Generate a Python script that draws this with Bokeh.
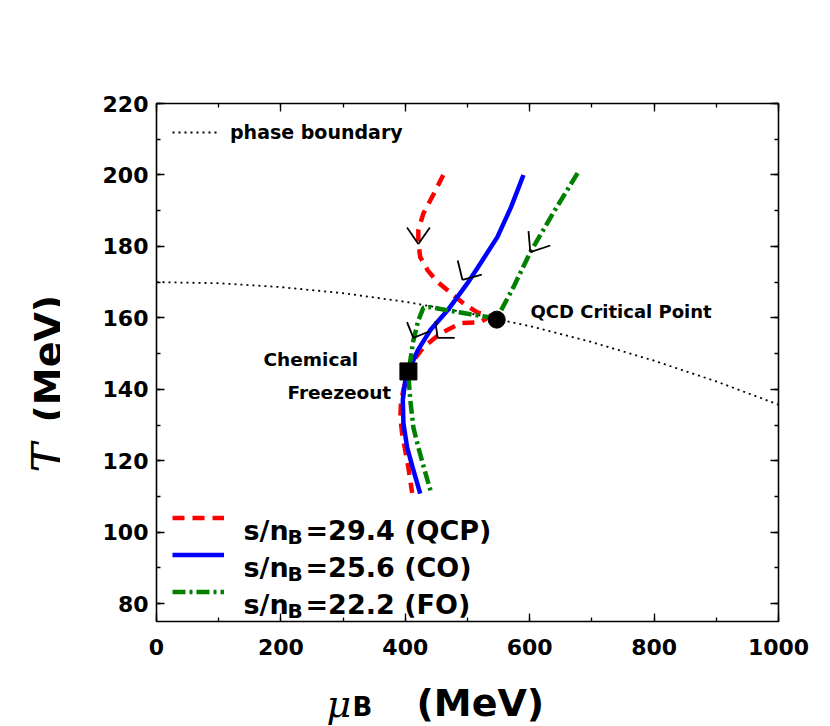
from bokeh.plotting import figure
from bokeh.layouts import column, row
from bokeh.models import (SingleIntervalTicker, LinearAxis, Label, Legend, LegendItem,
                          CustomJSTickFormatter)
from bokeh.embed import file_html
from bokeh.resources import INLINE
import math

# ---------------- data ----------------
mu_qcp = [461, 446, 429, 421, 421, 424, 436, 452, 468, 494, 516, 537, 521, 489, 456,
          429, 413, 405, 397, 393, 392, 395, 400, 405, 411]
T_qcp = [200, 194.8, 189.2, 184.6, 181, 177, 173.3, 170, 167.7, 164, 161.5, 160.5, 158.8,
         158.5, 155.6, 151.7, 148, 145, 140, 136, 132, 127.5, 122.8, 118, 111]

mu_co = [590, 570, 548, 521, 500, 468, 440, 420, 411, 405, 400, 396, 397, 403, 412, 424]
T_co = [200, 191, 182.6, 175.3, 169.7, 162.1, 156.5, 150.9, 147.3, 145, 142.5, 137,
        130.4, 123.7, 118, 110.8]

mu_fo = [677, 640, 601, 575, 547, 537, 505, 468, 440, 429, 421, 413, 408, 405, 408, 413,
         421, 430, 442]
T_fo = [200.5, 190, 178.4, 169, 159.8, 160.1, 161, 162.1, 163, 162.8, 159.3, 153.7, 148,
        144, 137, 129.3, 123.7, 118, 110.8]

mu_pb = [0, 100, 200, 300, 400, 500, 600, 700, 800, 900, 1000]
T_pb = [170, 169.7, 168.6, 166.9, 164.5, 161.4, 157.7, 153.2, 148.0, 142.2, 135.7]

freeze_mu = [405]
freeze_T = [145]
qcp_mu = [547]
qcp_T = [159.5]

# arrow heads on the trajectories: vertex and arm directions (deg)
arrow_mu = [421, 492, 601, 413, 452]
arrow_T = [180.7, 170.6, 178.4, 154.4, 154.4]
arrow_arm1 = [124.5, 104, 95, 112, 98]
arrow_arm2 = [54.8, 15.5, 18.4, 22, 0]
arrow_len = [20, 20, 21, 17, 17]

legend_labels = ["29.4 (QCP)", "25.6 (CO)", "22.2 (FO)"]

# ---------------- layout ----------------
TOTAL_W, TOTAL_H = 830, 726
YT_W = 60            # strip holding the y-axis title
XT_H = 46            # strip holding the x-axis title
W, H = TOTAL_W - YT_W, TOTAL_H - XT_H
FRAME_L, FRAME_R, FRAME_T, FRAME_B = 156, 778, 103, 621   # picture pixels
ML, MR, MT, MB = FRAME_L - YT_W, W - (FRAME_R - YT_W), FRAME_T, H - FRAME_B
X0, X1 = 0, 1000
Y0, Y1 = 75, 220
FW, FH = FRAME_R - FRAME_L, FRAME_B - FRAME_T


def sx(px):  # picture pixel -> data x of the main plot
    return X0 + (px - FRAME_L) / FW * (X1 - X0)


def sy(py):  # picture pixel -> data y of the main plot
    return Y1 - (py - FRAME_T) / FH * (Y1 - Y0)


p = figure(width=W, height=H, x_range=(X0, X1), y_range=(Y0, Y1), title=None,
           output_backend="svg", toolbar_location=None,
           min_border_left=ML, min_border_right=MR, min_border_top=MT, min_border_bottom=MB)
p.grid.visible = False
p.outline_line_color = "black"
p.outline_line_width = 1.6
p.background_fill_color = "white"
p.border_fill_color = "white"

TICK_FONT = "DejaVu Sans"


def style_axis(ax, show_labels=True, standoff=10):
    ax.axis_line_color = None
    ax.major_tick_in = 8
    ax.major_tick_out = 0
    ax.minor_tick_in = 4
    ax.minor_tick_out = 0
    ax.major_tick_line_color = "black"
    ax.minor_tick_line_color = "black"
    ax.major_tick_line_width = 1.3
    ax.minor_tick_line_width = 1.3
    ax.major_label_text_font = TICK_FONT
    ax.major_label_text_font_style = "bold"
    ax.major_label_text_font_size = "22px"
    ax.major_label_text_color = "black"
    ax.major_label_standoff = standoff
    if not show_labels:
        ax.formatter = CustomJSTickFormatter(code="return ''")


p.xaxis.ticker = SingleIntervalTicker(interval=200, num_minor_ticks=2)
p.yaxis.ticker = SingleIntervalTicker(interval=20, num_minor_ticks=2)
style_axis(p.xaxis[0], standoff=17)
style_axis(p.yaxis[0], standoff=8)

ax_top = LinearAxis(ticker=SingleIntervalTicker(interval=200, num_minor_ticks=2))
style_axis(ax_top, show_labels=False)
p.add_layout(ax_top, "above")
ax_right = LinearAxis(ticker=SingleIntervalTicker(interval=20, num_minor_ticks=2))
style_axis(ax_right, show_labels=False)
p.add_layout(ax_right, "right")

# ---------------- curves ----------------
pb = p.line(mu_pb, T_pb, line_color="black", line_width=1.8, line_dash="2 4")
r_qcp = p.line(mu_qcp, T_qcp, line_color="#ff0000", line_width=4.5, line_dash="12 8")
r_co = p.line(mu_co, T_co, line_color="#0000ff", line_width=4.5)
r_fo = p.line(mu_fo, T_fo, line_color="#008000", line_width=4.5, line_dash="13 4 3 4")

p.scatter(freeze_mu, freeze_T, marker="square", size=17, color="black")
p.scatter(qcp_mu, qcp_T, marker="circle", size=17, color="black")

p.ray(x=arrow_mu + arrow_mu, y=arrow_T + arrow_T, length=arrow_len + arrow_len,
      length_units="screen", angle=arrow_arm1 + arrow_arm2, angle_units="deg",
      line_color="black", line_width=1.8)

# ---------------- legends ----------------
leg_top = Legend(items=[LegendItem(label="phase boundary", renderers=[pb])],
                 location=(16, 477), border_line_color=None, background_fill_alpha=0,
                 padding=0, margin=0, glyph_width=46, glyph_height=24, label_height=24,
                 label_standoff=12, label_text_font="DejaVu Sans",
                 label_text_font_style="bold", label_text_font_size="19px",
                 label_text_color="black")
p.add_layout(leg_top)

leg_bot = Legend(items=[LegendItem(label=" ", renderers=[r_qcp]),
                        LegendItem(label=" ", renderers=[r_co]),
                        LegendItem(label=" ", renderers=[r_fo])],
                 location=(16, 11), border_line_color=None, background_fill_alpha=0,
                 padding=0, margin=0, spacing=0, glyph_width=52, glyph_height=37,
                 label_height=37, label_standoff=0, label_text_font_size="4px")
p.add_layout(leg_bot)


def lbl(fig, fx, fy, text, x, y, size, font="DejaVu Sans", style="bold", angle=0.0,
        baseline="alphabetic", align="left"):
    fig.add_layout(Label(x=fx(x), y=fy(y), text=text, text_font=font,
                         text_font_style=style, text_font_size=f"{size}px",
                         text_color="black", angle=angle, text_baseline=baseline,
                         text_align=align))


row_y = [517, 554, 591]
for ly, txt in zip(row_y, legend_labels):
    lbl(p, sx, sy, "s/n", 243, ly + 13, 27)
    lbl(p, sx, sy, "B", 287, ly + 19, 20)
    lbl(p, sx, sy, "=" + txt, 305, ly + 13, 27)

# annotations
lbl(p, sx, sy, "QCD Critical Point", 530, 311, 18, baseline="middle")
lbl(p, sx, sy, "Chemical", 263, 359, 18.5, baseline="middle")
lbl(p, sx, sy, "Freezeout", 287, 392, 18.5, baseline="middle")


# ---------------- axis-title strips ----------------
def strip(w, h, y_range):
    f = figure(width=w, height=h, x_range=(0, w), y_range=y_range, title=None,
               x_axis_type=None, y_axis_type=None, output_backend="svg",
               toolbar_location=None, min_border=0)
    f.grid.visible = False
    f.outline_line_color = None
    f.background_fill_color = "white"
    f.border_fill_color = "white"
    return f


# the y strip's frame is aligned with the main frame, so it shares the main y mapping
ytf = strip(YT_W, H, (Y0, Y1))
yx = lambda px: px
lbl(ytf, yx, sy, "T", 48, 472, 44, font="DejaVu Serif", style="italic", angle=math.pi / 2)
lbl(ytf, yx, sy, "(MeV)", 47, 422, 38, angle=math.pi / 2)

# x strip: texts hang from the top edge of the strip
xtf = strip(TOTAL_W, XT_H, (0, XT_H))
xx = lambda px: px
xy = lambda d: XT_H - d          # d = distance below the strip's top
lbl(xtf, xx, xy, "\u03bc", 326, 1, 38, font="DejaVu Serif", style="italic", baseline="top")
lbl(xtf, xx, xy, "B", 352, 11, 26, baseline="top")
lbl(xtf, xx, xy, "(MeV)", 416, 0, 38, baseline="top")

layout = column(row(ytf, p, spacing=0), xtf, spacing=0)

open("out.html", "w").write(file_html(layout, INLINE))
